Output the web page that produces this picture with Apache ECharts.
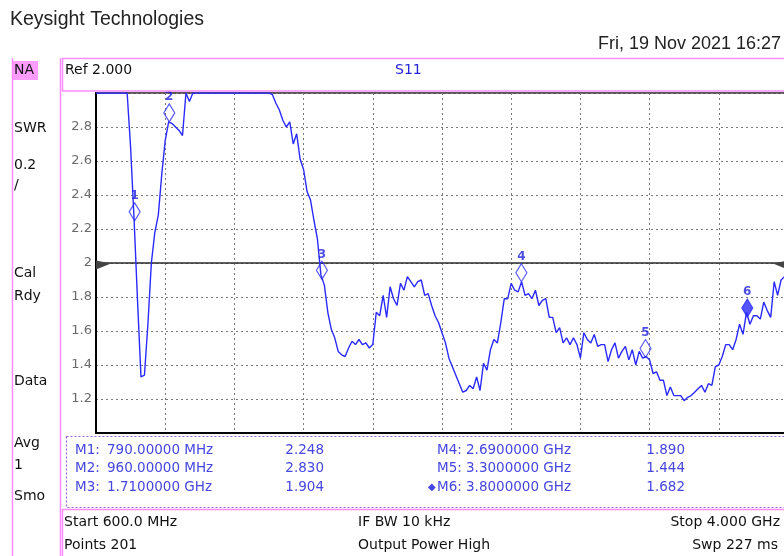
<!DOCTYPE html>
<html><head><meta charset="utf-8">
<script src="https://cdn.jsdelivr.net/npm/echarts@6/dist/echarts.min.js"></script>
<style>html,body{margin:0;padding:0;background:#fff}#c{width:784px;height:556px}</style>
</head><body><div id="c"></div>
<script>
// ---- sweep definition ----
const startMHz = 600, stopMHz = 4000, numPoints = 201;
const refLevel = 2.0, scalePerDiv = 0.2;

// ---- S11 SWR trace (201 points; 3.00 = clipped at top) ----
const swrValues = [
  3.00,3.00,3.00,3.00,3.00,3.00,3.00,3.00,3.00,3.00,
  2.68,2.26,1.78,1.33,1.34,1.64,2.00,2.18,2.28,2.52,
  2.72,2.83,2.82,2.80,2.78,2.75,3.00,2.95,3.00,3.00,
  3.00,3.00,3.00,3.00,3.00,3.00,3.00,3.00,3.00,3.00,
  3.00,3.00,3.00,3.00,3.00,3.00,3.00,3.00,3.00,3.00,
  3.00,2.99,2.94,2.90,2.84,2.80,2.83,2.70,2.76,2.61,
  2.55,2.42,2.37,2.25,2.14,1.93,1.87,1.71,1.61,1.56,
  1.48,1.46,1.45,1.50,1.54,1.52,1.55,1.52,1.53,1.50,
  1.52,1.71,1.69,1.81,1.68,1.86,1.79,1.75,1.88,1.84,
  1.92,1.89,1.86,1.89,1.90,1.81,1.82,1.75,1.69,1.65,
  1.59,1.53,1.44,1.39,1.34,1.29,1.24,1.25,1.28,1.26,
  1.33,1.25,1.41,1.37,1.49,1.55,1.53,1.65,1.79,1.79,
  1.88,1.84,1.83,1.89,1.81,1.82,1.79,1.84,1.75,1.78,
  1.79,1.68,1.68,1.59,1.62,1.53,1.56,1.52,1.56,1.52,
  1.44,1.59,1.55,1.53,1.58,1.51,1.52,1.52,1.42,1.49,
  1.53,1.44,1.48,1.51,1.43,1.49,1.40,1.48,1.44,1.45,
  1.43,1.35,1.36,1.31,1.31,1.22,1.27,1.22,1.22,1.22,
  1.19,1.21,1.22,1.24,1.26,1.28,1.24,1.29,1.28,1.39,
  1.40,1.45,1.52,1.52,1.49,1.55,1.64,1.58,1.71,1.64,
  1.69,1.69,1.67,1.77,1.72,1.68,1.89,1.81,1.90,1.92,
  1.93
];

// ---- markers ----
const markerNames = ['1','2','3','4','5','6'];
const markerFreqMHz = [790, 960, 1710, 2690, 3300, 3800];
const markerSwr = [2.248, 2.830, 1.904, 1.890, 1.444, 1.682];
const markerFreqText = ['790.00000 MHz','960.00000 MHz','1.7100000 GHz','2.6900000 GHz','3.3000000 GHz','3.8000000 GHz'];
const markerValText = ['2.248','2.830','1.904','1.890','1.444','1.682'];
const activeMarker = 5;

// ---- annotation texts ----
const leftPanel = [['NA',70],['SWR',128],['0.2',165],['/',185],['Cal',273],['Rdy',296],['Data',381],['Avg',443],['1',465],['Smo',496]];

const span = stopMHz - startMHz;
const step = span / (numPoints - 1);
const traceData = swrValues.map((v, i) => [i * step, v]);
const yMin = refLevel - 5 * scalePerDiv, yMax = refLevel + 5 * scalePerDiv;

const BLUE = '#2a2aff', TBL = '#4646e0', PINK = '#ff8cff';
const F = '"DejaVu Sans", sans-serif';

function txt(s, x, y, o) {
  o = o || {};
  return { type: 'text', x: x, y: y, z: 50, silent: true,
    style: { text: s, font: o.font || ('14px ' + F), fill: o.fill || '#111',
      align: o.align || 'left', verticalAlign: 'middle',
      textAlign: o.align || 'left', textVerticalAlign: 'middle' } };
}
function ln(x1, y1, x2, y2, c, w, dash) {
  return { type: 'line', z: 40, silent: true, shape: { x1, y1, x2, y2 },
    style: { stroke: c, lineWidth: w || 1, lineDash: dash || null } };
}

const graphic = [];
graphic.push(txt('Keysight Technologies', 10, 20, { font: '19.5px "Liberation Sans", sans-serif', fill: '#222' }));
graphic.push(txt('Fri, 19 Nov 2021 16:27', 781, 44, { font: '18px "Liberation Sans", sans-serif', fill: '#222', align: 'right' }));
// left panel
graphic.push(ln(12.5, 58, 12.5, 556, PINK, 1.5));
graphic.push(ln(60.5, 58, 60.5, 556, PINK, 1.5));
graphic.push({ type: 'rect', z: 39, silent: true, shape: { x: 13, y: 61, width: 25, height: 19 }, style: { fill: '#ff9cff' } });
leftPanel.forEach(p => graphic.push(txt(p[0], 14, p[1])));
// header box
graphic.push({ type: 'rect', z: 40, silent: true, shape: { x: 62.5, y: 58.5, width: 740, height: 32.5 }, style: { fill: 'none', stroke: PINK, lineWidth: 1.5 } });
graphic.push(txt('Ref 2.000', 65, 70));
graphic.push(txt('S11', 395, 70, { fill: '#2525dd' }));
// marker table
graphic.push({ type: 'rect', z: 40, silent: true, shape: { x: 66.5, y: 436.5, width: 740, height: 71 }, style: { fill: 'none', stroke: '#9a62e0', lineWidth: 1.2, lineDash: [2, 2] } });
const rowY = [450, 468.5, 487];
markerNames.forEach((n, i) => {
  const col = i < 3 ? 0 : 1;
  const y = rowY[i % 3];
  const bx = col === 0 ? 75 : 437;
  const fx = col === 0 ? 107 : 466;
  const vx = col === 0 ? 324 : 685;
  if (i === activeMarker) graphic.push(txt('\u25C6', bx - 9, y, { font: '10px ' + F, fill: TBL }));
  graphic.push(txt('M' + n + ':', bx, y, { font: '13.5px ' + F, fill: TBL }));
  graphic.push(txt(markerFreqText[i], fx, y, { font: '13.5px ' + F, fill: TBL }));
  graphic.push(txt(markerValText[i], vx, y, { font: '13.5px ' + F, fill: TBL, align: 'right' }));
});
// footer
graphic.push(ln(62, 509.5, 784, 509.5, PINK, 1.5));
graphic.push(ln(62.5, 509, 62.5, 556, PINK, 1.5));
graphic.push(txt('Start 600.0 MHz', 64, 522));
graphic.push(txt('Points 201', 64, 545));
graphic.push(txt('IF BW 10 kHz', 358, 522));
graphic.push(txt('Output Power High', 358, 545));
graphic.push(txt('Stop 4.000 GHz', 780, 522, { align: 'right' }));
graphic.push(txt('Swp 227 ms', 778, 545, { align: 'right' }));

const markerData = markerNames.map((n, i) => ({
  name: n,
  value: [markerFreqMHz[i] - startMHz, markerSwr[i]],
  itemStyle: i === activeMarker ? { color: BLUE, borderColor: BLUE, borderWidth: 1.2 } : { color: 'rgba(255,255,255,0)', borderColor: BLUE, borderWidth: 1.2 }
}));

const gridLine = { show: true, lineStyle: { color: '#7a7a7a', type: [2, 3], width: 1 } };

const option = {
  animation: false,
  backgroundColor: '#fff',
  graphic: graphic,
  grid: { left: 96, top: 93, width: 692, height: 340, show: true, borderColor: '#222', borderWidth: 1.5,
          backgroundColor: 'rgba(0,0,0,0)', containLabel: false, outerBoundsMode: 'none' },
  xAxis: {
    type: 'value', min: 0, max: span, interval: span / 10,
    axisLine: { show: true, onZero: false, lineStyle: { color: '#000', width: 2 } },
    axisTick: { show: false }, axisLabel: { show: false }, splitLine: gridLine
  },
  yAxis: {
    type: 'value', min: yMin, max: yMax, interval: scalePerDiv,
    axisLine: { show: true, lineStyle: { color: '#000', width: 2 } },
    axisTick: { show: false }, splitLine: gridLine,
    axisLabel: {
      margin: 4, color: '#6a6a6a', fontFamily: 'DejaVu Sans', fontSize: 13,
      formatter: v => (Math.abs(v - yMin) < 1e-6 || Math.abs(v - yMax) < 1e-6) ? '' : (Math.abs(v - refLevel) < 1e-6 ? String(Math.round(v)) : v.toFixed(1))
    }
  },
  series: [
    {
      type: 'line', data: traceData, showSymbol: false, symbol: 'none', z: 5,
      lineStyle: { color: BLUE, width: 1.4 },
      markLine: {
        silent: true, symbol: ['none', 'none'], label: { show: false },
        lineStyle: { color: '#2a2a2a', width: 1.6, type: 'solid' },
        data: [{ yAxis: refLevel }]
      },
      markPoint: {
        silent: true, label: { show: false },
        data: [
          { coord: [0, refLevel], symbol: 'path://M0,0L15,3L0,9Z', symbolSize: [15, 9], symbolOffset: [7.5, 2], itemStyle: { color: '#444' } },
          { coord: [span, refLevel], symbol: 'path://M15,0L0,3L15,9Z', symbolSize: [15, 9], symbolOffset: [-7.5, 2], itemStyle: { color: '#444' } }
        ]
      }
    },
    {
      type: 'scatter', data: markerData, symbol: 'diamond', symbolSize: [11, 18], symbolOffset: [0, -9], z: 10,
      label: { show: true, position: 'top', distance: 0, formatter: '{b}', color: '#2222dd', fontWeight: 'bold', fontSize: 12, fontFamily: 'DejaVu Sans' }
    }
  ]
};

const chart = echarts.init(document.getElementById('c'), null, { renderer: 'canvas' });
chart.setOption(option);
</script>
</body></html>
